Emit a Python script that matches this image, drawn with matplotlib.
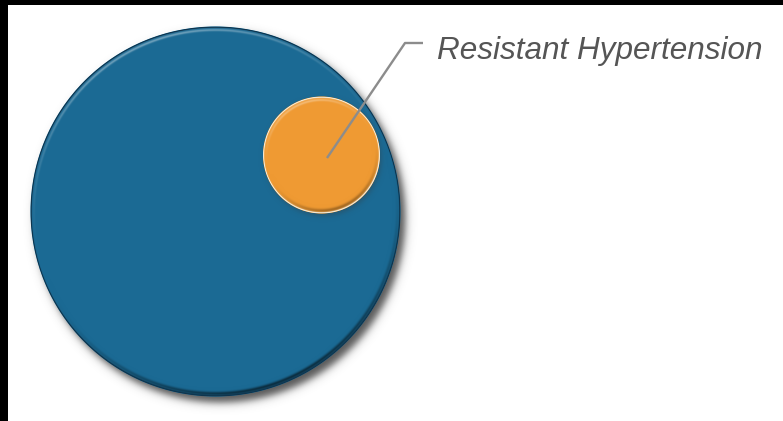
import numpy as np
import matplotlib.pyplot as plt
from matplotlib.patches import Circle

# share of all hypertensive patients covered by each circle
groups = ["Hypertension", "Resistant Hypertension"]
share = [1.0, 0.10]
callout = "Resistant Hypertension"

W, H = 783, 421
big_r = 185.0
centres = [(215.5, 211.5), (321.5, 155.0)]
fills = ["#1b6a94", "#ef9a33"]
rims = ["#0f354e", "#f3e9d6"]

radii = [big_r * np.sqrt(s) for s in share]

fig = plt.figure(figsize=(W / 100, H / 100), dpi=100, facecolor="black")
ax = fig.add_axes([8 / W, 0, (W - 8) / W, (H - 5) / H])
ax.set_xlim(8, W)
ax.set_ylim(H, 5)
ax.set_facecolor("white")
ax.set_xticks([])
ax.set_yticks([])
for sp in ax.spines.values():
    sp.set_visible(False)

xs = np.arange(8, W) + 0.5
ys = np.arange(5, H) + 0.5
X, Y = np.meshgrid(xs, ys)
extent = (8, W, H, 5)


def shadow(cx, cy, r, dx, dy, soft, strength):
    d = np.hypot(X - cx - dx, Y - cy - dy)
    a = strength / (1 + np.exp((d - r) / soft))
    img = np.zeros(X.shape + (4,))
    img[..., :3] = 0.22
    img[..., 3] = a
    return img


def bevel(cx, cy, r, base, rim, top_gain, low_gain):
    base = np.array(plt.matplotlib.colors.to_rgb(base))
    rim = np.array(plt.matplotlib.colors.to_rgb(rim))
    d = np.hypot(X - cx, Y - cy) + 1e-9
    t = r - d
    # light falls from the upper left
    s = ((X - cx) * -0.35 + (Y - cy) * -0.94) / d
    hi = np.clip(s, 0, 1) * np.exp(-((t - 3.5) / 1.8) ** 2)
    lo = np.clip(-s, 0, 1) * np.exp(-((t - 3.0) / 2.6) ** 2)
    rgb = np.broadcast_to(base, X.shape + (3,)).copy()
    rgb = rgb + (1 - rgb) * (top_gain * hi)[..., None]
    rgb = rgb * (1 - low_gain * lo)[..., None]
    edge = np.exp(-((t - 0.6) / 0.9) ** 2)
    rgb = rgb * (1 - edge[..., None]) + rim * edge[..., None]
    alpha = np.clip(t + 0.5, 0, 1) * np.clip(hi + lo + edge, 0, 1)
    img = np.concatenate([np.clip(rgb, 0, 1), alpha[..., None]], axis=2)
    return img


# drop shadow under the big circle
(cx0, cy0), r0 = centres[0], radii[0]
ax.imshow(shadow(cx0, cy0, r0, 5, 6, 2.4, 0.85), extent=extent,
          interpolation="bilinear", zorder=1)

for i, ((cx, cy), r) in enumerate(zip(centres, radii)):
    if i > 0:
        ax.imshow(shadow(cx, cy, r, 1.5, 2.5, 1.5, 0.35), extent=extent,
                  interpolation="bilinear", zorder=2 + 2 * i)
    ax.add_patch(Circle((cx, cy), r, facecolor=fills[i], edgecolor="none",
                        zorder=3 + 2 * i, label=groups[i]))
    gains = (0.35, 0.55) if i == 0 else (0.3, 0.3)
    ax.imshow(bevel(cx, cy, r, fills[i], rims[i], *gains), extent=extent,
              interpolation="bilinear", zorder=3.5 + 2 * i)

# leader line from the small circle out to the label
cx1, cy1 = centres[1]
lx = [cx1 + 5.5, 405, 423]
ly = [cy1 + 3, 43, 43]
ax.plot(lx, ly, color="#8c8c8c", lw=1.7, solid_capstyle="butt", zorder=10)
ax.text(437, 58.5, callout, fontsize=22.7, style="italic",
        family="Liberation Sans", color="#555555", ha="left", va="baseline",
        zorder=10)

fig.savefig("out.png", dpi=100, facecolor="black")
